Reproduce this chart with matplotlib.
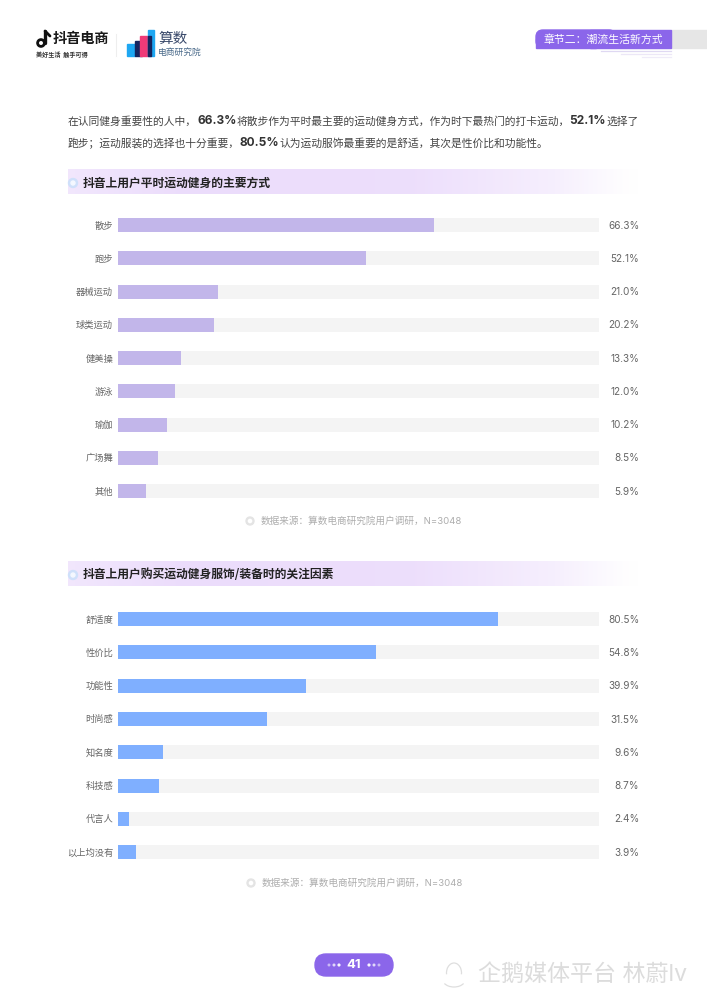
# -*- coding: utf-8 -*-
import numpy as np
import matplotlib
matplotlib.use('Agg')
import matplotlib.pyplot as plt
from matplotlib.patches import Rectangle, Circle, FancyBboxPatch, Arc

plt.rcParams['font.family'] = ['Noto Sans CJK SC', 'DejaVu Sans']
LATINA = ['Inter', 'Noto Sans CJK SC', 'DejaVu Sans']

# dados
modos = ['散步', '跑步', '器械运动', '球类运动', '健美操', '游泳', '瑜伽', '广场舞', '其他']
modos_pct = [66.3, 52.1, 21.0, 20.2, 13.3, 12.0, 10.2, 8.5, 5.9]
fatores = ['舒适度', '性价比', '功能性', '时尚感', '知名度', '科技感', '代言人', '以上均没有']
fatores_pct = [80.5, 54.8, 39.9, 31.5, 9.6, 8.7, 2.4, 3.9]
titulo_1 = '抖音上用户平时运动健身的主要方式'
titulo_2 = '抖音上用户购买运动健身服饰/装备时的关注因素'
fonte = '数据来源\uff1a算数电商研究院用户调研\uff0cN=3048'
capitulo = '章节二\uff1a潮流生活新方式'
linha_1 = [('在认同健身重要性的人中\uff0c', False), ('66.3%', True),
           ('将散步作为平时最主要的运动健身方式\uff0c作为时下最热门的打卡运动\uff0c', False),
           ('52.1%', True), ('选择了', False)]
linha_2 = [('跑步\uff1b运动服装的选择也十分重要\uff0c', False), ('80.5%', True),
           ('认为运动服饰最重要的是舒适\uff0c其次是性价比和功能性。', False)]

ROXO = '#8b66ea'
fig = plt.figure(figsize=(7.07, 10), dpi=100, facecolor='white')

# camada de fundo em pixels
bg = fig.add_axes([0, 0, 1, 1])


def texto_misto(partes, x, y):
    rend = fig.canvas.get_renderer()
    for s, negrito in partes:
        if negrito:
            t = bg.text(x, y, s, fontsize=8.6, fontweight='bold', color='#333333',
                        va='center', family=LATINA)
        else:
            t = bg.text(x, y, s, fontsize=7.75, color='#444444', va='center')
        x += t.get_window_extent(rend).width


def faixa(y, titulo):
    g = np.ones((1, 256, 4))
    g[..., 0], g[..., 1], g[..., 2] = 0.91, 0.84, 0.985
    g[0, :, 3] = np.interp(np.linspace(0, 1, 256), [0, 0.2, 0.6, 0.85, 0.97, 1], [0.6, 0.85, 0.8, 0.4, 0.05, 0])
    bg.imshow(g, extent=(68, 640, y + 25, y), aspect='auto', zorder=1)
    bg.add_patch(Circle((73, y + 14), 4.5, color='#cfe0fa', zorder=2))
    bg.add_patch(Circle((73, y + 14), 2, color='#f4f8ff', zorder=3))
    bg.text(83, y + 14, titulo, fontsize=8.5, fontweight='bold', color='#222222',
            va='center', zorder=3)


def nota_fonte(y, x):
    bg.add_patch(Circle((x, y), 4, color='#e4e4e4'))
    bg.add_patch(Circle((x, y), 1.6, color='white', zorder=3))
    bg.text(x + 11, y, fonte, fontsize=6.9, color='#adadad', va='center', family=LATINA)


# logo douyin
bg.add_patch(Circle((41, 43), 3.4, fill=False, ec='#111111', lw=2))
bg.plot([45, 45], [31, 43], color='#111111', lw=2.4, solid_capstyle='round')
bg.plot([45, 50], [31, 36], color='#111111', lw=2, solid_capstyle='round')
bg.text(53, 39, '抖音电商', fontsize=10.2, fontweight='bold', color='#1a1a1a', va='center')
bg.text(36, 54, '美好生活  触手可得', fontsize=4.4, fontweight='bold', color='#333333', va='center')
bg.plot([116, 116], [34, 56], color='#eeeeee', lw=0.8)
# logo suanshu
bg.add_patch(Rectangle((127, 44), 8, 12, color='#1ea7f2'))
bg.add_patch(Rectangle((135, 41), 7, 15, color='#14245e'))
bg.add_patch(Rectangle((140, 36), 8, 20, color='#ef3a78'))
bg.add_patch(Rectangle((148, 30), 6, 26, color='#1ea7f2'))
bg.add_patch(Rectangle((148, 36), 3, 20, color='#14245e'))
bg.text(158, 39, '算数', fontsize=10.5, color='#3a4a6b', va='center')
bg.text(158, 52, '电商研究院', fontsize=6.3, color='#4a6a8a', va='center')

# aba do capitulo
bg.add_patch(Rectangle((671, 30), 36, 18, color='#e6e6e6'))
bg.add_patch(FancyBboxPatch((536, 30), 80, 18, boxstyle='round,pad=0,rounding_size=7', color=ROXO))
bg.add_patch(Rectangle((590, 30), 81, 18, color=ROXO))
bg.add_patch(Rectangle((536, 39), 60, 9, color=ROXO))
bg.text(603, 39.5, capitulo, fontsize=7.8, color='white', va='center', ha='center')
for yy, x0, cor in [(51, 601, '#dfd8f2'), (54, 621, '#ece7f7'), (57, 642, '#efebf8')]:
    bg.plot([x0, 671], [yy, yy], color=cor, lw=0.9)

texto_misto(linha_1, 68, 121.5)
texto_misto(linha_2, 68, 143.5)

faixa(169, titulo_1)
faixa(561, titulo_2)
nota_fonte(521, 250)
nota_fonte(883, 251)

# numero da pagina
bg.add_patch(FancyBboxPatch((315, 954), 78, 22, boxstyle='round,pad=0,rounding_size=11', color=ROXO))
bg.text(354, 965, '41', fontsize=9.5, fontweight='bold', color='white', ha='center', va='center',
        family=LATINA)
for xx, al in [(329, .4), (334, .6), (339, .9), (369, .9), (374, .6), (379, .4)]:
    bg.add_patch(Circle((xx, 965), 0.9, color='white', alpha=al))

# marca d'agua
bg.add_patch(Arc((454, 973), 15, 20, theta1=170, theta2=370, ec='#dedede', lw=0.9))
bg.add_patch(Arc((454, 980), 22, 14, theta1=20, theta2=160, ec='#dedede', lw=0.9))
bg.text(478, 975, '企鹅媒体平台 林蔚lv', fontsize=16.6, color='#dcdcdc', va='center', family=LATINA)

bg.set_xlim(0, 707)
bg.set_ylim(1000, 0)
bg.axis('off')


def plot_barras(nomes, valores, cor, y_centro, passo, x_max):
    n = len(nomes)
    topo = y_centro - passo / 2
    alt = passo * n
    ax = fig.add_axes([118 / 707, 1 - (topo + alt) / 1000, (599 - 118) / 707, alt / 1000])
    ax.patch.set_alpha(0)
    y = np.arange(n)
    ax.barh(y, [x_max] * n, height=14 / passo, color='#f4f4f4')
    ax.barh(y, valores, height=14 / passo, color=cor)
    ax.set_xlim(0, x_max)
    ax.set_ylim(n - 0.5, -0.5)
    ax.set_xticks([])
    ax.set_yticks(y)
    ax.set_yticklabels(nomes, fontsize=6.7, color='#666666')
    ax.tick_params(axis='y', length=0, pad=3.5)
    for s in ax.spines.values():
        s.set_visible(False)
    for i, v in enumerate(valores):
        ax.annotate('%.1f%%' % v, xy=(1, i), xycoords=('axes fraction', 'data'),
                    xytext=(29, -0.5), textcoords='offset points', fontsize=7.2,
                    color='#666666', va='center', ha='right', family=LATINA)
    return ax


plot_barras(modos, modos_pct, '#c2b6ea', 225, 33.25, 101)
plot_barras(fatores, fatores_pct, '#7fafff', 619, 33.3, 102)

fig.savefig('out.png', dpi=100)
